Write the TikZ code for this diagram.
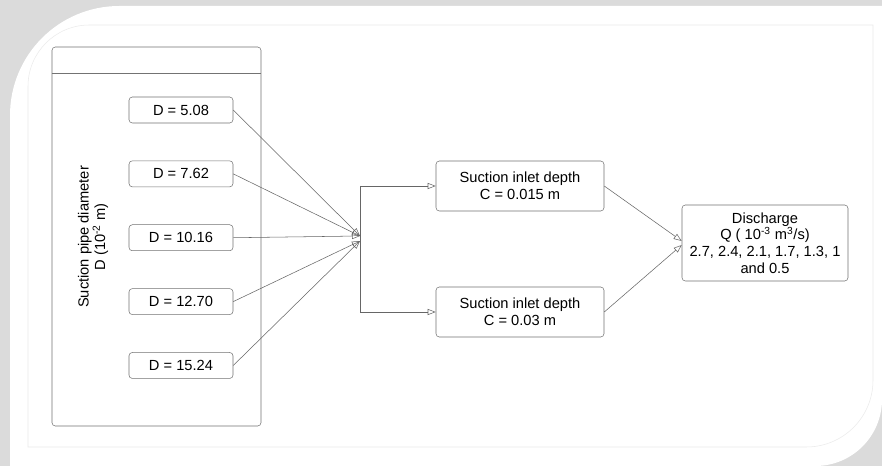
\documentclass[tikz,border=0pt]{standalone}
\usepackage{fontspec}
\setmainfont{Liberation Sans}
\usetikzlibrary{positioning, arrows.meta}

\begin{document}
\begin{tikzpicture}[
    x=0.75pt, y=-0.75pt,
    font=\fontsize{11}{12.4}\selectfont,
    node distance=28pt,
    dbox/.style={rectangle, draw=black!55, rounded corners=2.5pt, minimum width=78pt, minimum height=19.5pt, inner sep=0pt},
    cbox/.style={rectangle, draw=black!55, rounded corners=2.5pt, minimum width=126pt, minimum height=37.5pt, inner sep=0pt, align=center},
    qbox/.style={rectangle, draw=black!55, rounded corners=2.5pt, minimum width=124.5pt, minimum height=57pt, inner sep=0pt, align=center},
    arrow/.style={-{Triangle[open, length=6pt, width=4.5pt]}, draw=black!60},
    link/.style={draw=black!60},
]

% Frame
\fill[black!14] (0,0) rectangle (882,466);
\fill[white] (10,466) [rounded corners=82pt] -- (10,6) [sharp corners] -- (882,6) [rounded corners=50pt] -- (882,466) [sharp corners] -- cycle;
\draw[black!8] (28,447) [rounded corners=46pt] -- (28,25) [sharp corners] -- (873,25) [rounded corners=50pt] -- (873,447) [sharp corners] -- cycle;

% Diameter panel
\node[draw=black!55, rounded corners=2.5pt, minimum width=156.75pt, minimum height=284.25pt, inner sep=0pt] (panel) at (156.5,236.5) {};
\draw[black!55] ([yshift=-20.25pt]panel.north west) -- ([yshift=-20.25pt]panel.north east);
\node[rotate=90, align=center] (dlabel) at (93,237) {Suction pipe diameter\\D (10\textsuperscript{-2} m)};

\node[dbox] (d1) at (181,110) {D = 5.08};
\node[dbox, below=of d1] (d2) {D = 7.62};
\node[dbox, below=of d2] (d3) {D = 10.16};
\node[dbox, below=of d3] (d4) {D = 12.70};
\node[dbox, below=of d4] (d5) {D = 15.24};

% Converge
\coordinate (hub) at (360,236);
\coordinate (hublow) at (360,241);
\draw[arrow] (d1.east) -- (hub);
\draw[arrow] (d2.east) -- (hub);
\draw[arrow] (d3.east) -- (hub);
\draw[arrow] (d4.east) -- (hublow);
\draw[arrow] (d5.east) -- (hublow);

% Inlet depth
\node[cbox] (c1) at (520,186) {Suction inlet depth\\C = 0.015 m};
\node[cbox] (c2) at (520,312) {Suction inlet depth\\C = 0.03 m};

\coordinate (fork) at (360,249);
\draw[link] (fork |- c1) -- (fork |- c2);
\draw[arrow] (fork |- c1) -- (c1.west);
\draw[arrow] (fork |- c2) -- (c2.west);

% Discharge
\node[qbox] (q) at (765,243) {Discharge\\Q ( 10\textsuperscript{-3} m\textsuperscript{3}/s)\\2.7, 2.4, 2.1, 1.7, 1.3, 1\\and 0.5};
\draw[arrow] (c1.east) -- ([yshift=1.5pt]q.west);
\draw[arrow] (c2.east) -- ([yshift=-1.5pt]q.west);

\end{tikzpicture}
\end{document}
